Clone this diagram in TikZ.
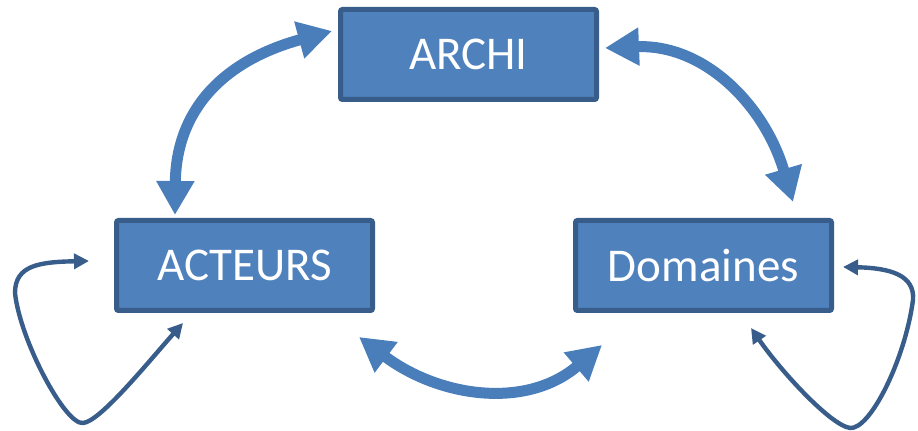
\documentclass[tikz,border=0pt]{standalone}
\usepackage{fontspec}
\setmainfont{Carlito}
\RequirePackage{xcolor}
\definecolor{boxblue}{RGB}{79,129,189}
\definecolor{boxline}{RGB}{56,93,138}
\definecolor{arrowblue}{RGB}{74,126,187}
\usetikzlibrary{calc}
\usetikzlibrary{arrows.meta}
\tikzset{
  box/.style={rectangle, draw=boxline, fill=boxblue, line width=2.5pt, rounded corners=1pt,
    minimum width=128pt, minimum height=45pt, text=white, font=\fontsize{23.5}{28}\selectfont},
  biarrow/.style={draw=arrowblue, line width=5.5pt, {Triangle[length=17pt,width=18pt]}-{Triangle[length=17pt,width=18pt]}},
  selfloop/.style={draw=boxline, line width=2.2pt, {Triangle[length=7.5pt,width=7.5pt]}-{Triangle[length=7.5pt,width=7.5pt]}}
}

\begin{document}
\begin{tikzpicture}[x=0.5pt,y=0.5pt]
  \useasboundingbox (0,0) rectangle (918,431);

  \node [box] at (468.5,376.5) (archi) {ARCHI};
  \node [box] at (244.5,165.5) (acteurs) {ACTEURS};
  \node [box] at (703.5,165.5) (domaines) {Domaines};

  % big arrows between the boxes
  \draw [biarrow] ($(acteurs.north)+(-69.5,3)$) .. controls (176,320) and (222,370) .. ($(archi.west)+(-6,23.5)$);
  \draw [biarrow] ($(archi.east)+(6,6.5)$) .. controls (705,387) and (765,325) .. ($(domaines.north)+(89.5,16)$);
  \draw [biarrow] ($(acteurs.south)+(114.5,-24)$) .. controls (439,34) and (526,21) .. ($(domaines.south)+(-101.5,-32)$);

  % loops on the sides
  \draw [selfloop] ($(acteurs.west)+(-25,4.5)$) .. controls (40,169) and (15,166) .. (15,138)
    .. controls (20,91) and (65,6) .. (83,8)
    .. controls (100,9) and (150,71) .. ($(acteurs.south)+(-61.5,-10)$);
  \draw [selfloop] ($(domaines.east)+(9,-1.5)$) .. controls (890,163) and (915,156) .. (913,131)
    .. controls (905,71) and (870,1) .. (850,3)
    .. controls (830,6) and (780,61) .. ($(domaines.south)+(47.5,-15)$);
\end{tikzpicture}
\end{document}
